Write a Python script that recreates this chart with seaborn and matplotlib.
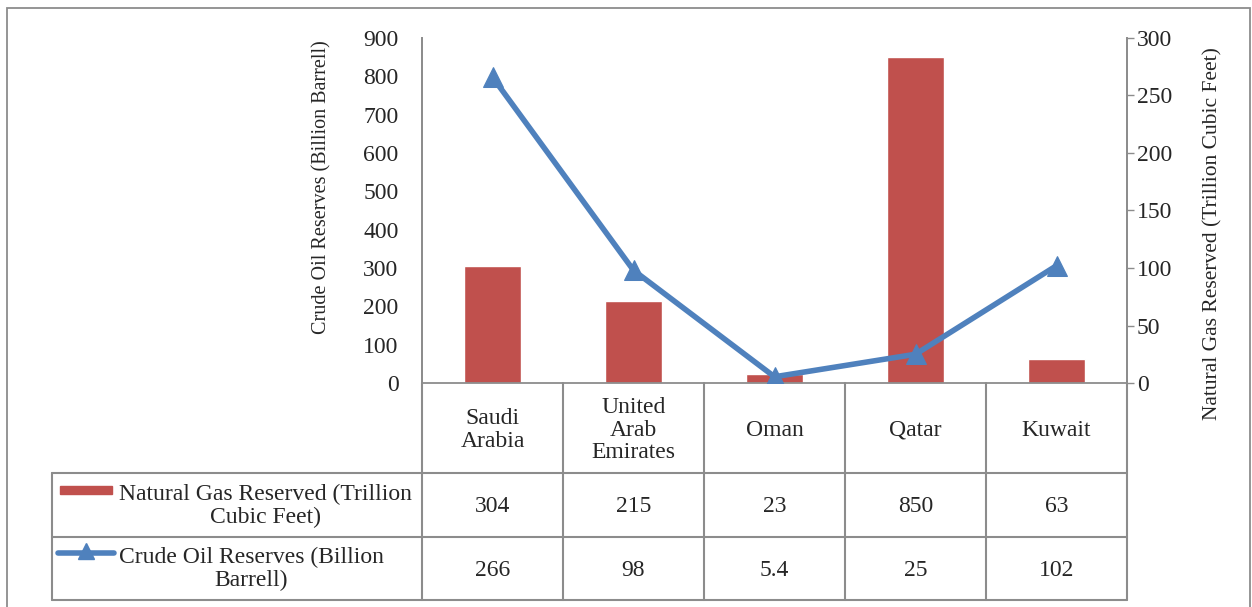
import numpy as np
import pandas as pd
import matplotlib
matplotlib.use("Agg")
import matplotlib.pyplot as plt
import matplotlib.transforms as mtransforms
from matplotlib.lines import Line2D
from matplotlib.patches import Rectangle
import seaborn as sns

# data
countries = ["Saudi\nArabia", "United\nArab\nEmirates", "Oman", "Qatar", "Kuwait"]
gas_tcf = [304, 215, 23, 850, 63]
oil_bbl = [266, 98, 5.4, 25, 102]
gas_labels = ["304", "215", "23", "850", "63"]
oil_labels = ["266", "98", "5.4", "25", "102"]
gas_name = "Natural Gas Reserved (Trillion\nCubic Feet)"
oil_name = "Crude Oil Reserves (Billion\nBarrell)"

RED = "#C0504D"
BLUE = "#4F81BD"
GRID = "#8C8C8C"
W, H = 1252, 607
FS = 17

sns.set_style("white")
plt.rcParams["font.family"] = ["Liberation Serif", "DejaVu Serif"]


def fx(x):
    return x / W


def fy(y):
    return 1 - y / H


df = pd.DataFrame({"country": countries, "gas": gas_tcf, "oil": oil_bbl})
df["pos"] = np.arange(len(df))

fig = plt.figure(figsize=(W / 100, H / 100), dpi=100)
ax = fig.add_axes([fx(422), fy(383), fx(1127) - fx(422), fy(38) - fy(383)])

sns.barplot(data=df, x="country", y="gas", color=RED, width=0.4,
            saturation=1, ax=ax, order=countries)
ax.set_xlim(-0.5, len(df) - 0.5)
ax.set_ylim(0, 900)
ax.set_yticks(np.arange(0, 901, 100))
ax.set_xticks([])
ax.set_xlabel("")
ax.set_ylabel("Crude Oil Reserves (Billion Barrell)", fontsize=14.5)
ax.yaxis.set_label_coords(-0.1277, 0.568)
ax.tick_params(axis="y", length=0, pad=17, labelsize=FS)

ax2 = ax.twinx()
sns.lineplot(data=df, x="pos", y="oil", color=BLUE, lw=4, marker="^",
             markersize=14, markeredgecolor=BLUE, ax=ax2, sort=False)
ax2.set_ylim(0, 300)
ax2.set_yticks(np.arange(0, 301, 50))
ax2.set_xlim(-0.5, len(df) - 0.5)
ax2.set_xlabel("")
ax2.set_ylabel("Natural Gas Reserved (Trillion Cubic Feet)", fontsize=15.5)
ax2.yaxis.set_label_coords(1.108, 0.432)
ax2.tick_params(axis="y", length=5, width=1, color=GRID, direction="out", pad=2, labelsize=FS)

for a in (ax, ax2):
    a.spines["top"].set_visible(False)
    for side in ("left", "right", "bottom"):
        a.spines[side].set_color(GRID)
        a.spines[side].set_linewidth(1.3)
ax2.spines["bottom"].set_visible(False)

# data table below the axis
trans = mtransforms.blended_transform_factory(ax.transData, fig.transFigure)
rows_y = [383, 473, 537, 600]
left_px = 52
n = len(df)
lkw = dict(color=GRID, lw=1.5)

for i in range(n + 1):
    fig.add_artist(Line2D([i - 0.5, i - 0.5], [fy(383), fy(600)], transform=trans, **lkw))
for y in rows_y[1:]:
    fig.add_artist(Line2D([fx(left_px), fx(1127)], [fy(y), fy(y)], transform=fig.transFigure, **lkw))
fig.add_artist(Line2D([fx(left_px), fx(left_px)], [fy(473), fy(600)], transform=fig.transFigure, **lkw))

for i, row in df.iterrows():
    fig.text(row["pos"], fy(430), row["country"], transform=trans, ha="center",
             va="center", fontsize=FS, linespacing=1.1)
    fig.text(row["pos"], fy(507), gas_labels[i], transform=trans, ha="center",
             va="center", fontsize=FS)
    fig.text(row["pos"], fy(570), oil_labels[i], transform=trans, ha="center",
             va="center", fontsize=FS)

# legend keys inside the table
fig.add_artist(Rectangle((fx(60), fy(494)), fx(112) - fx(60), fy(486) - fy(494),
                         transform=fig.transFigure, color=RED))
fig.add_artist(Line2D([fx(58), fx(114)], [fy(553), fy(553)], transform=fig.transFigure,
                      color=BLUE, lw=4))
fig.add_artist(Line2D([fx(86)], [fy(551)], transform=fig.transFigure, color=BLUE,
                      marker="^", markersize=12, lw=0))
fig.text(fx(265), fy(506), gas_name, ha="center", va="center", fontsize=FS, linespacing=1.15)
fig.text(fx(251), fy(569), oil_name, ha="center", va="center", fontsize=FS, linespacing=1.15)

# outer chart border
fig.add_artist(Rectangle((fx(7), fy(620)), fx(1250) - fx(7), fy(8) - fy(620),
                         transform=fig.transFigure, fill=False, edgecolor=GRID, lw=1.3))

fig.savefig("out.png", dpi=100)
